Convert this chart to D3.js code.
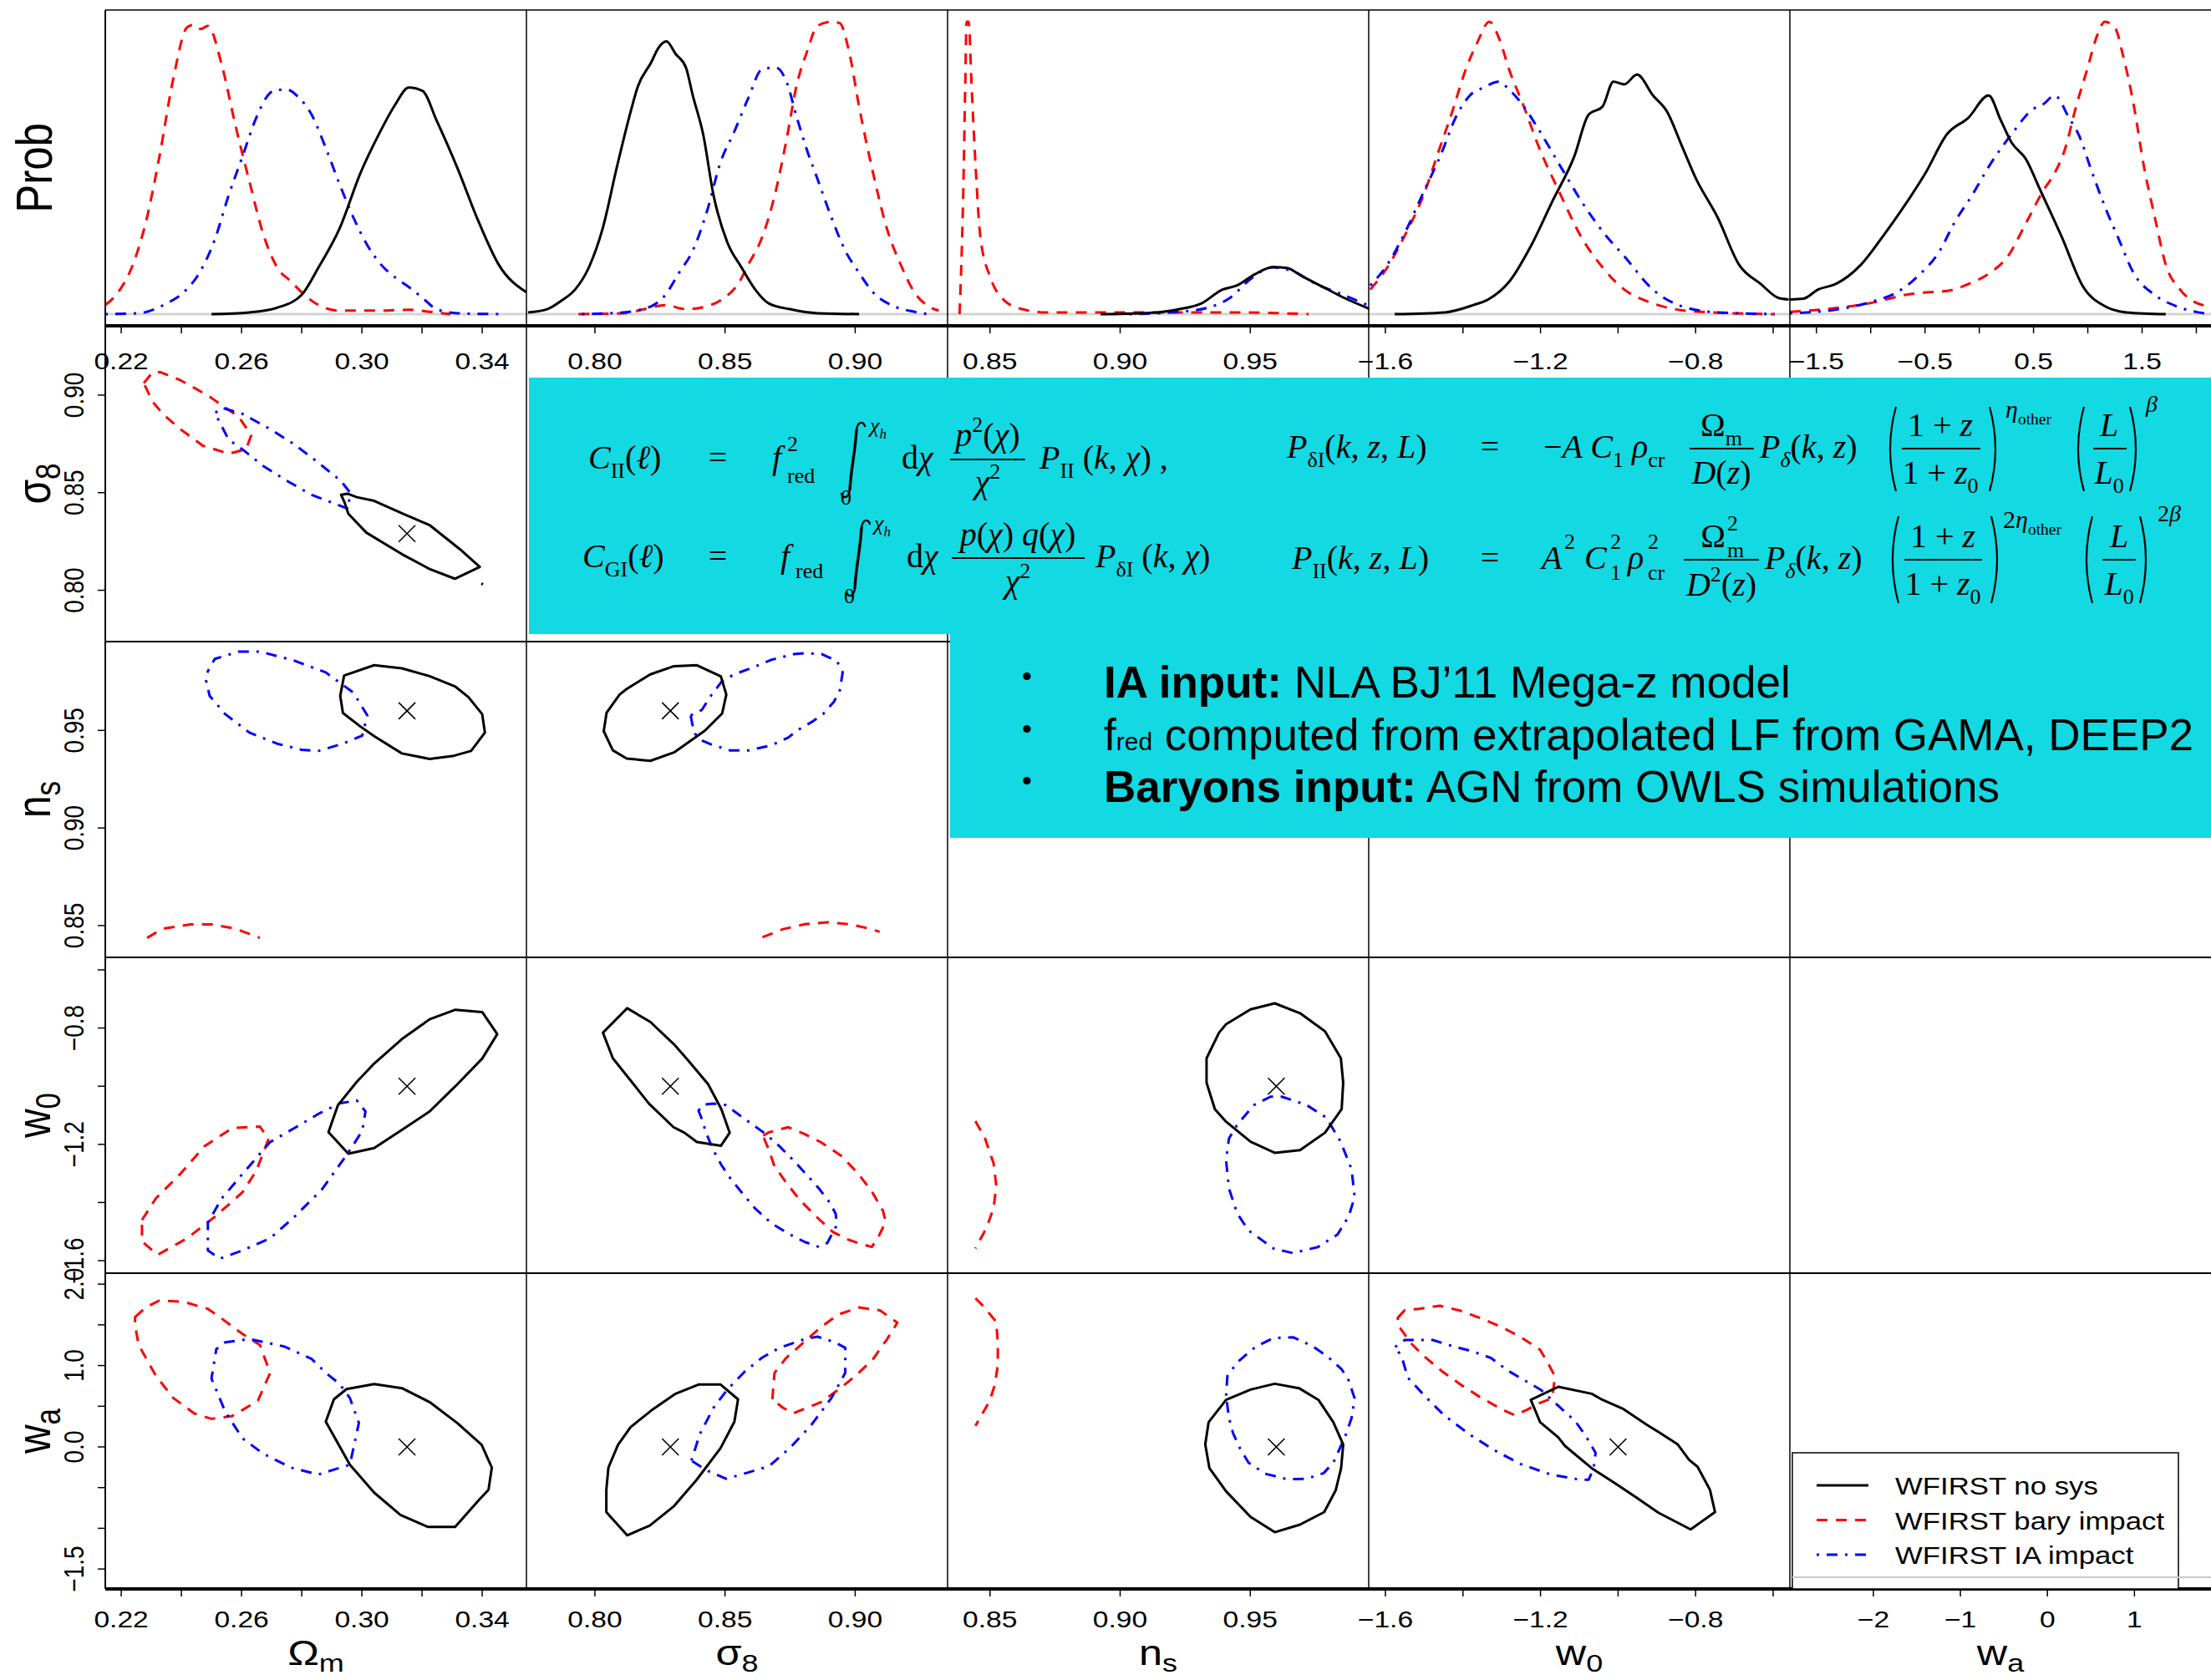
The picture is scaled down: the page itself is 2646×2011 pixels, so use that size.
<!DOCTYPE html>
<html>
<head>
<meta charset="utf-8">
<script src="https://cdn.jsdelivr.net/npm/d3@7"></script>
<style>
  body { margin: 0; background: #fff; }
  svg { display: block; }
  text { white-space: pre; }
</style>
</head>
<body>
<div id="chart"></div>
<script>
// parameters of the triangle plot (order = rows / columns)
const paramKeys = ["Om", "s8", "ns", "w0", "wa"];
const paramDomains = [[0.2147, 0.3547], [0.7737, 0.9355], [0.8337, 0.9955], [-1.643, -0.557], [-1.745, 2.135]];
const fiducial = [0.315, 0.829, 0.96, -1.0, 0.0];

// ticks and their labels
const axisTicks = [
  [0.22, 0.24, 0.26, 0.28, 0.30, 0.32, 0.34],
  [0.80, 0.85, 0.90],
  [0.85, 0.90, 0.95],
  [-1.6, -1.4, -1.2, -1.0, -0.8, -0.6],
  [-1.5, -1.0, -0.5, 0, 0.5, 1.0, 1.5, 2.0]
];
const xTickLabels = [
  ["0.22", "0.26", "0.30", "0.34"],
  ["0.80", "0.85", "0.90"],
  ["0.85", "0.90", "0.95"],
  ["−1.6", "−1.2", "−0.8"],
  ["−1.5", "−0.5", "0.5", "1.5"]
];
const yTickLabels = [
  [],
  ["0.80", "0.85", "0.90"],
  ["0.85", "0.90", "0.95"],
  ["−1.6", "−1.2", "−0.8"],
  ["−1.5", "0.0", "1.0", "2.0"]
];
// the last bottom panel has its own wa axis
const waBottomDomain = [-2.96, 1.88];
const waBottomTicks = ["−2", "−1", "0", "1"];

const seriesNames = ["WFIRST no sys", "WFIRST bary impact", "WFIRST IA impact"];
const seriesColors = ["#000000", "#ff0000", "#0000ff"];
const seriesDash = [null, "13,10", "3,9,13,9"];

// 1D marginals [value, relative prob]
const densOm_black = [[0.2500,0],[0.2626,0.006],[0.2718,0.022],[0.2799,0.065],[0.2856,0.160],[0.2926,0.293],[0.2995,0.482],[0.3052,0.606],[0.3110,0.715],[0.3156,0.775],[0.3202,0.763],[0.3248,0.663],[0.3317,0.501],[0.3386,0.321],[0.3455,0.169],[0.3548,0.074]];
const densOm_red = [[0.2147,0.031],[0.2189,0.074],[0.2235,0.160],[0.2281,0.311],[0.2327,0.539],[0.2373,0.805],[0.2419,0.981],[0.2442,0.990],[0.2465,0.975],[0.2488,0.986],[0.2534,0.853],[0.2580,0.644],[0.2626,0.454],[0.2672,0.274],[0.2718,0.160],[0.2764,0.112],[0.2810,0.065],[0.2856,0.031],[0.2926,0.012],[0.3064,0.012],[0.3156,0.015],[0.3225,0.008],[0.3294,0]];
const densOm_blue = [[0.2147,0],[0.2258,0.003],[0.2350,0.036],[0.2407,0.074],[0.2465,0.150],[0.2511,0.255],[0.2557,0.406],[0.2603,0.539],[0.2649,0.672],[0.2695,0.757],[0.2718,0.767],[0.2753,0.767],[0.2788,0.743],[0.2833,0.682],[0.2880,0.568],[0.2926,0.444],[0.2972,0.330],[0.3018,0.236],[0.3064,0.169],[0.3110,0.126],[0.3156,0.093],[0.3202,0.055],[0.3248,0.017],[0.3317,0.003],[0.3455,0]];
const densS8_black = [[0.7743,0.006],[0.7817,0.017],[0.7871,0.046],[0.7924,0.084],[0.7977,0.160],[0.8030,0.293],[0.8084,0.501],[0.8137,0.691],[0.8164,0.776],[0.8217,0.862],[0.8243,0.909],[0.8275,0.933],[0.8310,0.890],[0.8350,0.843],[0.8376,0.748],[0.8416,0.615],[0.8456,0.406],[0.8509,0.245],[0.8563,0.160],[0.8616,0.084],[0.8669,0.036],[0.8749,0.017],[0.8855,0.003],[0.9015,0]];
const densS8_red = [[0.7937,0],[0.8110,0.003],[0.8190,0.017],[0.8270,0.031],[0.8350,0.017],[0.8430,0.027],[0.8496,0.055],[0.8550,0.103],[0.8589,0.169],[0.8643,0.264],[0.8696,0.425],[0.8736,0.596],[0.8776,0.786],[0.8816,0.900],[0.8855,0.986],[0.8909,1.0],[0.8941,0.995],[0.8976,0.900],[0.9015,0.710],[0.9069,0.482],[0.9122,0.292],[0.9175,0.169],[0.9228,0.074],[0.9281,0.027],[0.9321,0.012]];
const densS8_blue = [[0.7950,0],[0.8110,0.006],[0.8217,0.027],[0.8270,0.065],[0.8323,0.141],[0.8376,0.217],[0.8430,0.350],[0.8483,0.520],[0.8536,0.625],[0.8589,0.738],[0.8643,0.838],[0.8696,0.843],[0.8736,0.795],[0.8776,0.672],[0.8816,0.558],[0.8855,0.463],[0.8909,0.330],[0.8962,0.217],[0.9015,0.141],[0.9069,0.074],[0.9149,0.027],[0.9228,0.008],[0.9281,0]];
const densNs_black = [[0.8925,0],[0.9145,0.006],[0.9228,0.017],[0.9311,0.036],[0.9393,0.084],[0.9449,0.098],[0.9517,0.136],[0.9586,0.161],[0.9641,0.158],[0.9696,0.131],[0.9779,0.093],[0.9862,0.055],[0.9961,0.017]];
const densNs_red = [[0.8383,0],[0.8397,0.406],[0.8405,0.786],[0.8410,1.0],[0.8418,1.0],[0.8429,0.786],[0.8445,0.501],[0.8463,0.264],[0.8503,0.122],[0.8556,0.046],[0.8623,0.017],[0.8716,0.006],[0.8870,0.006],[0.9145,0.006],[0.9421,0.006],[0.9724,0]];
const densNs_blue = [[0.9035,0],[0.9228,0.008],[0.9338,0.022],[0.9421,0.055],[0.9504,0.122],[0.9586,0.160],[0.9669,0.145],[0.9752,0.103],[0.9834,0.074],[0.9961,0.027]];
const densW0_black = [[-1.576,0],[-1.446,0.006],[-1.373,0.031],[-1.335,0.050],[-1.280,0.112],[-1.224,0.235],[-1.169,0.387],[-1.113,0.539],[-1.076,0.682],[-1.040,0.710],[-1.012,0.795],[-0.984,0.786],[-0.951,0.819],[-0.910,0.748],[-0.873,0.691],[-0.836,0.577],[-0.799,0.463],[-0.743,0.330],[-0.688,0.169],[-0.632,0.103],[-0.586,0.055],[-0.560,0.050]];
const densW0_red = [[-1.639,0.084],[-1.595,0.160],[-1.548,0.274],[-1.502,0.406],[-1.465,0.548],[-1.428,0.691],[-1.391,0.843],[-1.363,0.929],[-1.332,1.0],[-1.308,0.947],[-1.280,0.833],[-1.243,0.710],[-1.206,0.577],[-1.151,0.416],[-1.095,0.264],[-1.040,0.160],[-0.984,0.084],[-0.929,0.046],[-0.854,0.017],[-0.762,0.006],[-0.596,0]];
const densW0_blue = [[-1.639,0.098],[-1.595,0.169],[-1.548,0.283],[-1.502,0.416],[-1.456,0.548],[-1.419,0.672],[-1.382,0.748],[-1.345,0.776],[-1.308,0.795],[-1.280,0.767],[-1.243,0.710],[-1.206,0.634],[-1.151,0.511],[-1.095,0.387],[-1.040,0.283],[-0.984,0.198],[-0.910,0.084],[-0.836,0.027],[-0.743,0.006],[-0.596,0]];
const densWa_black = [[-1.745,0.050],[-1.619,0.053],[-1.486,0.084],[-1.322,0.103],[-1.090,0.169],[-0.892,0.264],[-0.694,0.368],[-0.496,0.482],[-0.298,0.615],[-0.099,0.672],[0.086,0.748],[0.198,0.663],[0.297,0.587],[0.430,0.530],[0.561,0.425],[0.760,0.264],[0.958,0.093],[1.157,0.027],[1.354,0.006],[1.718,0]];
const densWa_red = [[-1.745,0.008],[-1.289,0.022],[-0.958,0.041],[-0.694,0.065],[-0.496,0.074],[-0.298,0.079],[-0.099,0.103],[0.099,0.141],[0.264,0.198],[0.430,0.311],[0.594,0.425],[0.694,0.482],[0.793,0.568],[0.892,0.710],[0.991,0.833],[1.090,0.957],[1.157,1.0],[1.255,0.976],[1.321,0.890],[1.421,0.719],[1.519,0.501],[1.618,0.330],[1.718,0.169],[1.850,0.084],[2.016,0.036],[2.135,0.027]];
const densWa_blue = [[-1.745,0.003],[-1.289,0.017],[-0.958,0.046],[-0.760,0.074],[-0.562,0.131],[-0.363,0.217],[-0.232,0.311],[-0.067,0.406],[0.099,0.511],[0.297,0.615],[0.495,0.701],[0.594,0.719],[0.694,0.748],[0.826,0.672],[0.925,0.606],[1.024,0.501],[1.157,0.368],[1.288,0.254],[1.421,0.141],[1.618,0.065],[1.817,0.027],[2.016,0.006],[2.135,0]];

// 2D contours [x param value, y param value]
const s8Om_black = [[0.2931,0.8489],[0.2952,0.8495],[0.2983,0.8477],[0.3041,0.8458],[0.3133,0.8395],[0.3225,0.8334],[0.3326,0.8210],[0.3392,0.8120],[0.3309,0.8059],[0.3225,0.8109],[0.3133,0.8185],[0.3015,0.8295],[0.2955,0.8392],[0.2943,0.8448]];
const s8Om_dot = [[0.3397,0.8034],[0.3403,0.8031]];
const s8Om_red = [[0.2275,0.9061],[0.2304,0.9117],[0.2331,0.9117],[0.2396,0.9077],[0.2488,0.8998],[0.2591,0.8888],[0.2632,0.8794],[0.2615,0.8722],[0.2557,0.8700],[0.2471,0.8741],[0.2396,0.8826],[0.2338,0.8904],[0.2304,0.8967]];
const s8Om_blue = [[0.2513,0.8910],[0.2534,0.8935],[0.2603,0.8904],[0.2695,0.8826],[0.2776,0.8747],[0.2856,0.8653],[0.2931,0.8559],[0.2960,0.8502],[0.2955,0.8417],[0.2903,0.8448],[0.2833,0.8489],[0.2753,0.8559],[0.2672,0.8637],[0.2603,0.8722],[0.2557,0.8772],[0.2523,0.8873]];

const nsOm_black = [[0.2941,0.9781],[0.3041,0.9834],[0.3133,0.9818],[0.3225,0.9778],[0.3311,0.9724],[0.3354,0.9671],[0.3400,0.9583],[0.3409,0.9489],[0.3363,0.9395],[0.3306,0.9370],[0.3225,0.9354],[0.3133,0.9382],[0.3041,0.9470],[0.2995,0.9520],[0.2937,0.9589],[0.2928,0.9677]];
const nsOm_red = [[0.2286,0.8437],[0.2338,0.8484],[0.2430,0.8506],[0.2500,0.8506],[0.2580,0.8484],[0.2661,0.8437]];
const nsOm_blue = [[0.2488,0.9803],[0.2511,0.9866],[0.2591,0.9904],[0.2661,0.9904],[0.2776,0.9857],[0.2880,0.9797],[0.2972,0.9693],[0.3018,0.9577],[0.3001,0.9473],[0.2937,0.9432],[0.2856,0.9395],[0.2799,0.9401],[0.2718,0.9432],[0.2626,0.9489],[0.2546,0.9583],[0.2494,0.9677],[0.2482,0.9756]];

const nsS8_black = [[0.8034,0.9496],[0.8045,0.9591],[0.8095,0.9684],[0.8122,0.9712],[0.8213,0.9787],[0.8304,0.9829],[0.8392,0.9834],[0.8484,0.9777],[0.8505,0.9684],[0.8489,0.9587],[0.8422,0.9498],[0.8304,0.9387],[0.8213,0.9344],[0.8122,0.9356],[0.8069,0.9398]];
const nsS8_red = [[0.8644,0.8440],[0.8721,0.8481],[0.8807,0.8507],[0.8893,0.8517],[0.8978,0.8507],[0.9053,0.8485],[0.9094,0.8468]];
const nsS8_blue = [[0.8368,0.9577],[0.8411,0.9605],[0.8449,0.9684],[0.8486,0.9748],[0.8534,0.9787],[0.8593,0.9815],[0.8679,0.9862],[0.8764,0.9891],[0.8807,0.9895],[0.8871,0.9891],[0.8930,0.9855],[0.8952,0.9798],[0.8941,0.9705],[0.8919,0.9648],[0.8877,0.9584],[0.8839,0.9548],[0.8775,0.9498],[0.8743,0.9463],[0.8679,0.9424],[0.8593,0.9398],[0.8518,0.9398],[0.8449,0.9427],[0.8411,0.9448],[0.8384,0.9484],[0.8374,0.9534]];

const w0Om_black = [[0.2889,-1.158],[0.2920,-1.066],[0.2983,-0.985],[0.3041,-0.922],[0.3133,-0.838],[0.3225,-0.770],[0.3311,-0.737],[0.3400,-0.745],[0.3450,-0.821],[0.3400,-0.905],[0.3311,-1.000],[0.3225,-1.087],[0.3133,-1.150],[0.3041,-1.213],[0.2955,-1.232]];
const w0Om_red = [[0.2269,-1.460],[0.2315,-1.386],[0.2396,-1.302],[0.2476,-1.207],[0.2569,-1.144],[0.2661,-1.139],[0.2690,-1.181],[0.2649,-1.291],[0.2603,-1.365],[0.2511,-1.449],[0.2419,-1.523],[0.2321,-1.580],[0.2269,-1.534]];
const w0Om_blue = [[0.2488,-1.470],[0.2534,-1.386],[0.2603,-1.302],[0.2695,-1.192],[0.2776,-1.144],[0.2856,-1.095],[0.2926,-1.059],[0.2983,-1.049],[0.3012,-1.087],[0.3001,-1.154],[0.2955,-1.228],[0.2868,-1.354],[0.2776,-1.449],[0.2695,-1.523],[0.2603,-1.565],[0.2528,-1.593],[0.2488,-1.565]];

const w0S8_black = [[0.8031,-0.816],[0.8124,-0.732],[0.8213,-0.779],[0.8304,-0.856],[0.8358,-0.911],[0.8435,-0.993],[0.8486,-1.079],[0.8518,-1.160],[0.8484,-1.205],[0.8392,-1.192],[0.8344,-1.160],[0.8302,-1.141],[0.8208,-1.060],[0.8144,-0.988],[0.8069,-0.904]];
const w0S8_red = [[0.8647,-1.170],[0.8668,-1.159],[0.8743,-1.141],[0.8807,-1.165],[0.8871,-1.194],[0.8946,-1.239],[0.9010,-1.299],[0.9064,-1.362],[0.9107,-1.429],[0.9117,-1.467],[0.9091,-1.515],[0.9064,-1.553],[0.9010,-1.539],[0.8968,-1.526],[0.8914,-1.501],[0.8850,-1.448],[0.8786,-1.390],[0.8732,-1.328],[0.8689,-1.273],[0.8668,-1.218],[0.8652,-1.184]];
const w0S8_blue = [[0.8398,-1.084],[0.8417,-1.063],[0.8454,-1.060],[0.8502,-1.065],[0.8529,-1.082],[0.8593,-1.124],[0.8657,-1.165],[0.8711,-1.208],[0.8764,-1.256],[0.8818,-1.309],[0.8861,-1.352],[0.8898,-1.395],[0.8925,-1.438],[0.8930,-1.477],[0.8893,-1.539],[0.8861,-1.553],[0.8807,-1.536],[0.8743,-1.507],[0.8679,-1.472],[0.8614,-1.419],[0.8561,-1.362],[0.8518,-1.314],[0.8486,-1.271],[0.8454,-1.218],[0.8427,-1.160],[0.8411,-1.113]];

const w0Ns_black = [[0.9594,-0.715],[0.9691,-0.749],[0.9787,-0.811],[0.9848,-0.904],[0.9857,-0.988],[0.9851,-1.079],[0.9787,-1.160],[0.9691,-1.220],[0.9594,-1.229],[0.9501,-1.191],[0.9407,-1.122],[0.9364,-1.079],[0.9332,-0.988],[0.9332,-0.904],[0.9380,-0.816],[0.9407,-0.787],[0.9501,-0.736]];
const w0Ns_red = [[0.8444,-1.120],[0.8481,-1.180],[0.8514,-1.266],[0.8524,-1.342],[0.8514,-1.419],[0.8487,-1.486],[0.8444,-1.558]];
const w0Ns_blue = [[0.9578,-1.036],[0.9621,-1.036],[0.9717,-1.065],[0.9792,-1.108],[0.9846,-1.189],[0.9889,-1.285],[0.9901,-1.381],[0.9878,-1.448],[0.9835,-1.510],[0.9760,-1.553],[0.9664,-1.574],[0.9589,-1.558],[0.9493,-1.496],[0.9450,-1.438],[0.9418,-1.352],[0.9407,-1.256],[0.9418,-1.180],[0.9450,-1.132],[0.9514,-1.065]];

const waOm_black = [[0.2907,0.585],[0.2949,0.711],[0.3041,0.773],[0.3133,0.722],[0.3225,0.551],[0.3317,0.294],[0.3398,0.027],[0.3432,-0.254],[0.3421,-0.527],[0.3386,-0.665],[0.3310,-0.983],[0.3220,-0.983],[0.3128,-0.835],[0.3041,-0.562],[0.2960,-0.219],[0.2880,0.311]];
const waOm_red = [[0.2246,1.594],[0.2281,1.714],[0.2327,1.799],[0.2407,1.783],[0.2488,1.697],[0.2534,1.577],[0.2603,1.389],[0.2661,1.252],[0.2695,0.910],[0.2654,0.567],[0.2569,0.379],[0.2500,0.345],[0.2442,0.413],[0.2373,0.602],[0.2315,0.875],[0.2258,1.252],[0.2246,1.491]];
const waOm_blue = [[0.2516,1.201],[0.2546,1.286],[0.2626,1.327],[0.2741,1.235],[0.2833,1.081],[0.2880,0.910],[0.2926,0.773],[0.2960,0.602],[0.2990,0.294],[0.2960,-0.219],[0.2914,-0.271],[0.2856,-0.339],[0.2764,-0.254],[0.2672,-0.083],[0.2603,0.105],[0.2546,0.431],[0.2500,0.841]];

const waS8_black = [[0.8124,-1.086],[0.8044,-0.801],[0.8044,-0.527],[0.8052,-0.254],[0.8089,0.027],[0.8137,0.243],[0.8217,0.448],[0.8310,0.654],[0.8398,0.766],[0.8483,0.766],[0.8550,0.585],[0.8536,0.311],[0.8483,-0.014],[0.8390,-0.408],[0.8302,-0.733],[0.8211,-0.966]];
const waS8_red = [[0.8682,0.585],[0.8690,0.910],[0.8736,1.098],[0.8803,1.286],[0.8869,1.474],[0.8936,1.628],[0.9015,1.714],[0.9095,1.679],[0.9162,1.526],[0.9122,1.321],[0.9069,1.081],[0.9002,0.875],[0.8936,0.705],[0.8869,0.551],[0.8803,0.465],[0.8762,0.413],[0.8722,0.482]];
const waS8_blue = [[0.8371,-0.168],[0.8403,0.157],[0.8456,0.482],[0.8509,0.705],[0.8576,0.927],[0.8643,1.098],[0.8709,1.218],[0.8803,1.321],[0.8855,1.355],[0.8922,1.286],[0.8962,1.218],[0.8962,0.910],[0.8909,0.602],[0.8829,0.259],[0.8749,-0.014],[0.8669,-0.237],[0.8563,-0.339],[0.8504,-0.391],[0.8430,-0.288]];

const waNs_black = [[0.9407,0.578],[0.9501,0.704],[0.9594,0.776],[0.9687,0.722],[0.9762,0.578],[0.9819,0.304],[0.9857,0.030],[0.9849,-0.261],[0.9828,-0.534],[0.9784,-0.801],[0.9691,-0.955],[0.9594,-1.048],[0.9501,-0.860],[0.9407,-0.545],[0.9343,-0.261],[0.9327,0.030],[0.9340,0.304]];
const waNs_red = [[0.8444,1.827],[0.8476,1.724],[0.8524,1.536],[0.8530,1.279],[0.8530,1.006],[0.8519,0.766],[0.8498,0.561],[0.8444,0.260]];
const waNs_blue = [[0.9407,0.629],[0.9412,0.869],[0.9450,1.040],[0.9519,1.228],[0.9589,1.338],[0.9664,1.348],[0.9739,1.238],[0.9798,1.108],[0.9851,0.954],[0.9878,0.817],[0.9901,0.595],[0.9889,0.355],[0.9867,0.150],[0.9846,-0.004],[0.9819,-0.192],[0.9782,-0.322],[0.9717,-0.391],[0.9643,-0.398],[0.9557,-0.329],[0.9493,-0.192],[0.9461,-0.021],[0.9434,0.167],[0.9418,0.355]];

const waW0_black = [[-1.225,0.578],[-1.154,0.739],[-1.068,0.653],[-1.040,0.578],[-0.986,0.465],[-0.925,0.270],[-0.896,0.184],[-0.846,0.030],[-0.817,-0.158],[-0.795,-0.244],[-0.763,-0.527],[-0.750,-0.801],[-0.813,-1.014],[-0.896,-0.808],[-0.953,-0.620],[-1.007,-0.449],[-1.068,-0.261],[-1.137,0.013],[-1.154,0.116],[-1.201,0.304]];
const waW0_red = [[-1.568,1.587],[-1.550,1.680],[-1.514,1.697],[-1.460,1.735],[-1.406,1.673],[-1.348,1.570],[-1.298,1.468],[-1.248,1.341],[-1.201,1.194],[-1.176,0.988],[-1.163,0.869],[-1.167,0.698],[-1.172,0.595],[-1.208,0.527],[-1.234,0.458],[-1.266,0.390],[-1.298,0.458],[-1.356,0.612],[-1.406,0.766],[-1.456,0.937],[-1.499,1.108],[-1.535,1.279],[-1.568,1.502]];
const waW0_blue = [[-1.575,1.228],[-1.550,1.314],[-1.478,1.314],[-1.427,1.238],[-1.377,1.177],[-1.327,1.091],[-1.284,0.937],[-1.241,0.817],[-1.198,0.698],[-1.155,0.509],[-1.111,0.321],[-1.083,0.133],[-1.058,-0.072],[-1.063,-0.261],[-1.076,-0.404],[-1.104,-0.398],[-1.176,-0.336],[-1.252,-0.209],[-1.320,-0.038],[-1.384,0.157],[-1.449,0.390],[-1.499,0.629],[-1.542,0.851],[-1.558,1.108]];

// which curves go in which panel: [data, series index, closed]
const densityPanels = [
  [densOm_black, densOm_red, densOm_blue],
  [densS8_black, densS8_red, densS8_blue],
  [densNs_black, densNs_red, densNs_blue],
  [densW0_black, densW0_red, densW0_blue],
  [densWa_black, densWa_red, densWa_blue]
];
const contourPanels = [
  { row: 1, col: 0, lines: [[s8Om_red, 1, true], [s8Om_blue, 2, true], [s8Om_black, 0, true], [s8Om_dot, 0, false]] },
  { row: 2, col: 0, lines: [[nsOm_red, 1, false], [nsOm_blue, 2, true], [nsOm_black, 0, true]] },
  { row: 2, col: 1, lines: [[nsS8_red, 1, false], [nsS8_blue, 2, true], [nsS8_black, 0, true]] },
  { row: 3, col: 0, lines: [[w0Om_red, 1, true], [w0Om_blue, 2, true], [w0Om_black, 0, true]] },
  { row: 3, col: 1, lines: [[w0S8_red, 1, true], [w0S8_blue, 2, true], [w0S8_black, 0, true]] },
  { row: 3, col: 2, lines: [[w0Ns_red, 1, false], [w0Ns_blue, 2, true], [w0Ns_black, 0, true]] },
  { row: 4, col: 0, lines: [[waOm_red, 1, true], [waOm_blue, 2, true], [waOm_black, 0, true]] },
  { row: 4, col: 1, lines: [[waS8_red, 1, true], [waS8_blue, 2, true], [waS8_black, 0, true]] },
  { row: 4, col: 2, lines: [[waNs_red, 1, false], [waNs_blue, 2, true], [waNs_black, 0, true]] },
  { row: 4, col: 3, lines: [[waW0_red, 1, true], [waW0_blue, 2, true], [waW0_black, 0, true]] }
];

// ---- layout ----
const W = 2646, H = 2011;
const left = 126, cw = 504, rh = 378;
const colX = i => left + i * cw;
const rowY = i => i === 0 ? 12 : 390 + (i - 1) * rh;
const bottom = 1902;
const sx = 1.2; // text in the chart is stretched horizontally
const sansFont = "'Liberation Sans', Arial, Helvetica, sans-serif";
const serifFont = "'Liberation Serif', 'Times New Roman', serif";

const svg = d3.select("#chart").append("svg")
  .attr("width", W)
  .attr("height", H)
  .style("background", "#fff");

const xScales = paramDomains.map((d, i) => d3.scaleLinear().domain(d).range([colX(i), colX(i) + cw]));
const yScales = paramDomains.map((d, i) => d3.scaleLinear().domain(d).range([rowY(i) + rh, rowY(i)]));
const densY = d3.scaleLinear().domain([-0.04, 1.04]).range([390, 12]);
const waBottomScale = d3.scaleLinear().domain(waBottomDomain).range([colX(4), colX(4) + cw]);

const num = s => +s.replace("−", "-");

// clip rects for every panel
const defs = svg.append("defs");
for (let r = 0; r < 5; r++) {
  for (let c = 0; c < 5; c++) {
    defs.append("clipPath").attr("id", `clip-${r}-${c}`)
      .append("rect")
      .attr("x", colX(c)).attr("y", rowY(r))
      .attr("width", cw).attr("height", rh);
  }
}

function styleSeries(sel, s) {
  sel.attr("fill", "none")
    .attr("stroke", seriesColors[s])
    .attr("stroke-width", 3)
    .attr("stroke-linejoin", "round");
  if (seriesDash[s]) sel.attr("stroke-dasharray", seriesDash[s]);
  return sel;
}

// ---- diagonal: 1D densities ----
densityPanels.forEach((curves, p) => {
  const g = svg.append("g").attr("clip-path", `url(#clip-0-${p})`);
  g.append("line")
    .attr("x1", colX(p)).attr("x2", colX(p) + cw)
    .attr("y1", densY(0)).attr("y2", densY(0))
    .attr("stroke", "#d4d4d4").attr("stroke-width", 3);
  const line = d3.line()
    .x(d => xScales[p](d[0]))
    .y(d => densY(d[1]))
    .curve(d3.curveMonotoneX);
  [1, 2, 0].forEach(s => {
    styleSeries(g.append("path").attr("d", line(curves[s])), s);
  });
});

// ---- lower triangle: 2D contours ----
contourPanels.forEach(panel => {
  const xs = xScales[panel.col], ys = yScales[panel.row];
  const g = svg.append("g").attr("clip-path", `url(#clip-${panel.row}-${panel.col})`);
  panel.lines.forEach(([data, s, closed]) => {
    const line = d3.line()
      .x(d => xs(d[0]))
      .y(d => ys(d[1]))
      .curve(closed ? d3.curveLinearClosed : d3.curveLinear);
    styleSeries(g.append("path").attr("d", line(data)), s);
  });
  // fiducial cross
  const fx = xs(fiducial[panel.col]), fy = ys(fiducial[panel.row]);
  g.append("path")
    .attr("d", `M${fx - 10},${fy - 10}L${fx + 10},${fy + 10}M${fx - 10},${fy + 10}L${fx + 10},${fy - 10}`)
    .attr("stroke", "#000").attr("stroke-width", 1.6);
});

// ---- panel frame ----
const frame = svg.append("g").attr("stroke", "#000");
[[12, 1.5], [390, 4], [768, 2], [1146, 2], [1524, 2], [bottom, 4]].forEach(([y, w]) => {
  frame.append("line").attr("x1", left).attr("x2", W).attr("y1", y).attr("y2", y).attr("stroke-width", w);
});
[[left, 2], [colX(1), 1.5], [colX(2), 1.5], [colX(3), 1.5], [colX(4), 1.5]].forEach(([x, w]) => {
  frame.append("line").attr("x1", x).attr("x2", x).attr("y1", 12).attr("y2", bottom).attr("stroke-width", w);
});

// ---- text helper ----
function chartText(g, x, y, size, opts = {}) {
  return g.append("text")
    .attr("transform", `translate(${x},${y}) scale(${sx},1)` + (opts.rotate ? ` rotate(${opts.rotate})` : ""))
    .attr("text-anchor", opts.anchor || "middle")
    .style("font-family", sansFont)
    .style("font-size", size + "px")
    .attr("fill", "#000");
}

// ---- axes ----
const axes = svg.append("g");
function xAxisAt(yLine, labelY, scale, ticks, labels) {
  ticks.forEach(v => {
    const x = scale(v);
    axes.append("line").attr("x1", x).attr("x2", x).attr("y1", yLine).attr("y2", yLine + 9)
      .attr("stroke", "#000").attr("stroke-width", 1.5);
  });
  labels.forEach(l => chartText(axes, scale(num(l)), labelY, 28).text(l));
}
for (let p = 0; p < 5; p++) {
  xAxisAt(390, 442, xScales[p], axisTicks[p], xTickLabels[p]);
  if (p < 4) xAxisAt(bottom, 1948, xScales[p], axisTicks[p], xTickLabels[p]);
}
xAxisAt(bottom, 1948, waBottomScale, waBottomTicks.map(num), waBottomTicks);

for (let p = 1; p < 5; p++) {
  axisTicks[p].forEach(v => {
    const y = yScales[p](v);
    axes.append("line").attr("x1", left - 9).attr("x2", left).attr("y1", y).attr("y2", y)
      .attr("stroke", "#000").attr("stroke-width", 1.5);
  });
  yTickLabels[p].forEach(l => chartText(axes, 100, yScales[p](num(l)), 28, { rotate: -90 }).text(l));
}

// axis titles
const titleMain = ["Ω", "σ", "n", "w", "w"];
const titleSub = ["m", "8", "s", "0", "a"];
function title(x, y, i, rotate, size, drop) {
  const t = chartText(axes, x, y, size, { rotate: rotate });
  t.append("tspan").text(titleMain[i]);
  t.append("tspan").attr("dy", drop).style("font-size", Math.round(size * 0.72) + "px").text(titleSub[i]);
  return t;
}
for (let p = 0; p < 5; p++) title(colX(p) + cw / 2, 1993, p, 0, 42, 8);
for (let p = 1; p < 5; p++) title(60, rowY(p) + rh / 2, p, -90, 48, 10);
chartText(axes, 62, 201, 51, { rotate: -90 }).text("Prob");

// ---- cyan info box ----
const box = svg.append("g");
box.append("path")
  .attr("d", "M633,452H2646V1003H1137V759H633Z")
  .attr("fill", "#13d9e3");

function math(x, y, spans, size, anchor) {
  const t = box.append("text")
    .attr("x", x).attr("y", y)
    .attr("text-anchor", anchor || "start")
    .style("font-family", serifFont)
    .style("font-size", size + "px")
    .attr("fill", "#000");
  let cur = 0;
  spans.forEach(([str, kind]) => {
    let off = 0, fs = size;
    if (kind.includes("sub")) { off = 0.28 * size; fs = 0.65 * size; }
    if (kind.includes("sup")) { off = -0.42 * size; fs = 0.65 * size; }
    t.append("tspan").attr("dy", off - cur)
      .style("font-size", fs + "px")
      .style("font-style", kind.startsWith("i") ? "italic" : "normal")
      .text(str);
    cur = off;
  });
  return t;
}
function bar(x1, x2, y) {
  box.append("line").attr("x1", x1).attr("x2", x2).attr("y1", y).attr("y2", y)
    .attr("stroke", "#000").attr("stroke-width", 2.2);
}
function paren(x, top, bot, dir) {
  const w = 7 * dir;
  box.append("path")
    .attr("d", `M${x + w},${top} Q${x - w},${(top + bot) / 2} ${x + w},${bot}`)
    .attr("fill", "none").attr("stroke", "#000").attr("stroke-width", 2.2);
}
// integral sign drawn as a slanted stroke with hooks
function integral(x, top, bot) {
  const g = box.append("g").attr("fill", "none").attr("stroke", "#000").attr("stroke-linecap", "round");
  g.append("path")
    .attr("d", `M${x + 5},${top + 10} C${x + 3},${top + 40} ${x - 1},${bot - 40} ${x - 3},${bot - 10}`)
    .attr("stroke-width", 3.4);
  g.append("path")
    .attr("d", `M${x + 5},${top + 10} C${x + 6},${top} ${x + 13},${top - 2} ${x + 15},${top + 5}`)
    .attr("stroke-width", 2.4);
  g.append("path")
    .attr("d", `M${x - 3},${bot - 10} C${x - 4},${bot} ${x - 11},${bot + 2} ${x - 13},${bot - 5}`)
    .attr("stroke-width", 2.4);
}

// row 1, left: C_II
math(704, 561, [["C", "i"], ["II", "sub"], ["(", "r"], ["ℓ", "i"], [")", "r"]], 40);
math(859, 561, [["=", "r"]], 40, "middle");
math(924, 561, [["f", "i"]], 40);
math(942, 540, [["2", "r"]], 26);
math(942, 578, [["red", "r"]], 26);
integral(1020, 505, 596);
math(1041, 518, [["χ", "i"], ["h", "isub"]], 26);
math(1006, 604, [["0", "r"]], 26);
math(1079, 561, [["d", "r"], ["χ", "i"]], 40);
math(1182, 534, [["p", "i"], ["2", "sup"], ["(", "r"], ["χ", "i"], [")", "r"]], 40, "middle");
bar(1137, 1227, 550);
math(1182, 590, [["χ", "i"], ["2", "sup"]], 40, "middle");
math(1244, 561, [["P", "i"], ["II", "sub"], [" (", "r"], ["k", "i"], [", ", "r"], ["χ", "i"], [") ,", "r"]], 40);

// row 1, right: P_dI
math(1540, 548, [["P", "i"], ["δI", "sub"], ["(", "r"], ["k", "i"], [", ", "r"], ["z", "i"], [", ", "r"], ["L", "i"], [")", "r"]], 40);
math(1783, 548, [["=", "r"]], 40, "middle");
math(1847, 548, [["−", "r"], ["A", "i"], [" C", "i"], ["1", "sub"], [" ρ", "i"], ["cr", "sub"]], 40);
math(2060, 522, [["Ω", "r"], ["m", "sub"]], 40, "middle");
bar(2022, 2099, 537);
math(2060, 579, [["D", "i"], ["(", "r"], ["z", "i"], [")", "r"]], 40, "middle");
math(2106, 548, [["P", "i"], ["δ", "isub"], ["(", "r"], ["k", "i"], [", ", "r"], ["z", "i"], [")", "r"]], 40);
paren(2262, 487, 588, 1);
math(2322, 522, [["1 + ", "r"], ["z", "i"]], 40, "middle");
bar(2276, 2370, 537);
math(2322, 579, [["1 + ", "r"], ["z", "i"], ["0", "sub"]], 40, "middle");
paren(2388, 487, 588, -1);
math(2400, 500, [["η", "i"], ["other", "sub"]], 30);
paren(2487, 487, 588, 1);
math(2524, 522, [["L", "i"]], 40, "middle");
bar(2505, 2545, 537);
math(2524, 579, [["L", "i"], ["0", "sub"]], 40, "middle");
paren(2556, 487, 588, -1);
math(2568, 493, [["β", "i"]], 28);

// row 2, left: C_GI
math(697, 679, [["C", "i"], ["GI", "sub"], ["(", "r"], ["ℓ", "i"], [")", "r"]], 40);
math(859, 679, [["=", "r"]], 40, "middle");
math(934, 679, [["f", "i"]], 40);
math(952, 692, [["red", "r"]], 26);
integral(1026, 622, 714);
math(1046, 635, [["χ", "i"], ["h", "isub"]], 26);
math(1010, 722, [["0", "r"]], 26);
math(1085, 679, [["d", "r"], ["χ", "i"]], 40);
math(1218, 653, [["p", "i"], ["(", "r"], ["χ", "i"], [")", "r"], [" q", "i"], ["(", "r"], ["χ", "i"], [")", "r"]], 40, "middle");
bar(1139, 1298, 668);
math(1218, 709, [["χ", "i"], ["2", "sup"]], 40, "middle");
math(1311, 679, [["P", "i"], ["δI", "sub"], [" (", "r"], ["k", "i"], [", ", "r"], ["χ", "i"], [")", "r"]], 40);

// row 2, right: P_II
math(1546, 681, [["P", "i"], ["II", "sub"], ["(", "r"], ["k", "i"], [", ", "r"], ["z", "i"], [", ", "r"], ["L", "i"], [")", "r"]], 40);
math(1783, 681, [["=", "r"]], 40, "middle");
math(1845, 681, [["A", "i"]], 40);
math(1872, 657, [["2", "r"]], 26);
math(1896, 681, [["C", "i"]], 40);
math(1927, 657, [["2", "r"]], 26);
math(1927, 694, [["1", "r"]], 26);
math(1948, 681, [["ρ", "i"]], 40);
math(1972, 657, [["2", "r"]], 26);
math(1972, 694, [["cr", "r"]], 26);
math(2050, 655, [["Ω", "r"]], 40, "middle");
math(2067, 635, [["2", "r"]], 26);
math(2067, 667, [["m", "r"]], 26);
bar(2015, 2105, 670);
math(2060, 713, [["D", "i"], ["2", "sup"], ["(", "r"], ["z", "i"], [")", "r"]], 40, "middle");
math(2112, 681, [["P", "i"], ["δ", "isub"], ["(", "r"], ["k", "i"], [", ", "r"], ["z", "i"], [")", "r"]], 40);
paren(2265, 618, 722, 1);
math(2325, 655, [["1 + ", "r"], ["z", "i"]], 40, "middle");
bar(2279, 2372, 670);
math(2325, 712, [["1 + ", "r"], ["z", "i"], ["0", "sub"]], 40, "middle");
paren(2390, 618, 722, -1);
math(2397, 632, [["2", "r"], ["η", "i"], ["other", "sub"]], 30);
paren(2497, 618, 722, 1);
math(2536, 655, [["L", "i"]], 40, "middle");
bar(2516, 2556, 670);
math(2536, 712, [["L", "i"], ["0", "sub"]], 40, "middle");
paren(2568, 618, 722, -1);
math(2582, 624, [["2", "r"], ["β", "i"]], 28);

// bullet list
const bullets = [
  [["IA input:", "b"], [" NLA BJ’11 Mega-z model", "n"]],
  [["f", "n"], ["red", "s"], [" computed from extrapolated LF from GAMA, DEEP2", "n"]],
  [["Baryons input:", "b"], [" AGN from OWLS simulations", "n"]]
];
const bulletY = [835, 898, 960];
bullets.forEach((parts, i) => {
  box.append("text").attr("x", 1229).attr("y", bulletY[i] - 14)
    .attr("text-anchor", "middle")
    .style("font-family", sansFont).style("font-size", "34px").text("•");
  const t = box.append("text").attr("x", 1321).attr("y", bulletY[i])
    .style("font-family", sansFont).style("font-size", "53px").attr("fill", "#000");
  parts.forEach(([str, kind]) => {
    t.append("tspan")
      .style("font-weight", kind === "b" ? "bold" : "normal")
      .style("font-size", kind === "s" ? "30px" : "53px")
      .text(str);
  });
});

// ---- legend ----
const leg = svg.append("g");
leg.append("rect")
  .attr("x", 2145).attr("y", 1739).attr("width", 462).attr("height", bottom - 1739)
  .attr("fill", "#fff").attr("stroke", "#000").attr("stroke-width", 1.5);
seriesNames.forEach((name, i) => {
  const y = 1778 + i * 41.5;
  styleSeries(leg.append("line").attr("x1", 2174).attr("x2", 2236).attr("y1", y).attr("y2", y), i);
  chartText(leg, 2268, y + 11, 29, { anchor: "start" }).text(name);
});
leg.append("line").attr("x1", 2145).attr("x2", W).attr("y1", 1888).attr("y2", 1888)
  .attr("stroke", "#c8c8c8").attr("stroke-width", 2);
</script>
</body>
</html>
